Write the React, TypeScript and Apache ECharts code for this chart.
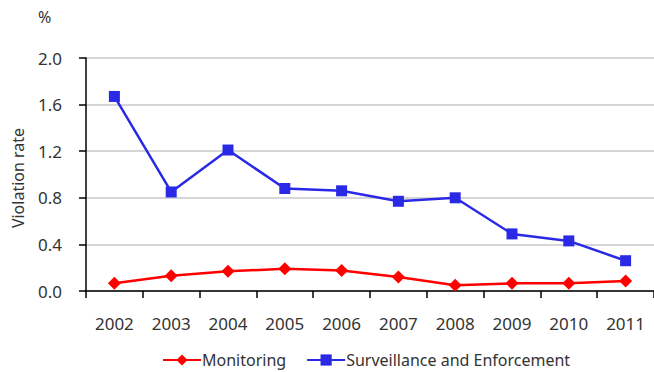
import React, { useEffect, useRef } from "react";
import * as echarts from "echarts";

const years = ["2002", "2003", "2004", "2005", "2006", "2007", "2008", "2009", "2010", "2011"];
const monitoring = [0.066, 0.13, 0.17, 0.19, 0.175, 0.12, 0.05, 0.066, 0.066, 0.086];
const surveillance = [1.67, 0.85, 1.21, 0.88, 0.86, 0.77, 0.8, 0.49, 0.43, 0.26];
const yTicks = { min: 0, max: 2.0, interval: 0.4 };

const FONT = "Noto Sans";
const TEXT = "#333";

export default function App() {
  const ref = useRef<HTMLDivElement>(null);

  useEffect(() => {
    if (!ref.current) return;
    const chart = echarts.init(ref.current, undefined, { renderer: "svg" });
    chart.setOption({
      animation: false,
      backgroundColor: "#fff",
      textStyle: { fontFamily: FONT },
      grid: { left: 86, top: 58, right: -5, bottom: 81 },
      legend: {
        bottom: -1,
        left: 157,
        itemWidth: 38,
        itemHeight: 14,
        itemGap: 20,
        textStyle: { fontFamily: FONT, fontSize: 16, color: TEXT, padding: [0, 0, 0, -4] },
        data: ["Monitoring", "Surveillance and Enforcement"],
      },
      graphic: [
        {
          type: "text",
          left: 38,
          top: 9,
          style: { text: "%", font: `16px "${FONT}"`, fill: TEXT },
        },
        {
          type: "text",
          x: 10,
          y: 178,
          rotation: Math.PI / 2,
          style: {
            text: "Violation rate",
            font: `16px "${FONT}"`,
            fill: TEXT,
            align: "center",
            verticalAlign: "top",
          },
        },
      ],
      xAxis: {
        type: "category",
        data: years,
        boundaryGap: true,
        axisLine: { lineStyle: { color: "#000", width: 1.5 } },
        axisTick: { show: true, length: 7, lineStyle: { color: "#000", width: 1.5 } },
        axisLabel: { fontSize: 17, color: TEXT, margin: 24, fontFamily: FONT },
      },
      yAxis: {
        type: "value",
        min: yTicks.min,
        max: yTicks.max,
        interval: yTicks.interval,
        axisLine: { show: true, lineStyle: { color: "#000", width: 1.5 } },
        axisTick: { show: true, length: 7, lineStyle: { color: "#000", width: 1.5 } },
        axisLabel: {
          fontSize: 17,
          color: TEXT,
          margin: 24,
          fontFamily: FONT,
          formatter: (v: number) => v.toFixed(1),
        },
        splitLine: { lineStyle: { color: "#c8c8c8", width: 1.5 } },
      },
      series: [
        {
          name: "Monitoring",
          type: "line",
          data: monitoring,
          symbol: "diamond",
          symbolSize: 13,
          itemStyle: { color: "#ff0000" },
          lineStyle: { color: "#ff0000", width: 2.5 },
        },
        {
          name: "Surveillance and Enforcement",
          type: "line",
          data: surveillance,
          symbol: "rect",
          symbolSize: 11,
          itemStyle: { color: "#2a2ae6" },
          lineStyle: { color: "#2a2ae6", width: 2.5 },
        },
      ],
    });
    return () => chart.dispose();
  }, []);

  return <div ref={ref} style={{ width: 654, height: 372, position: "absolute", left: 0, top: 0 }} />;
}
